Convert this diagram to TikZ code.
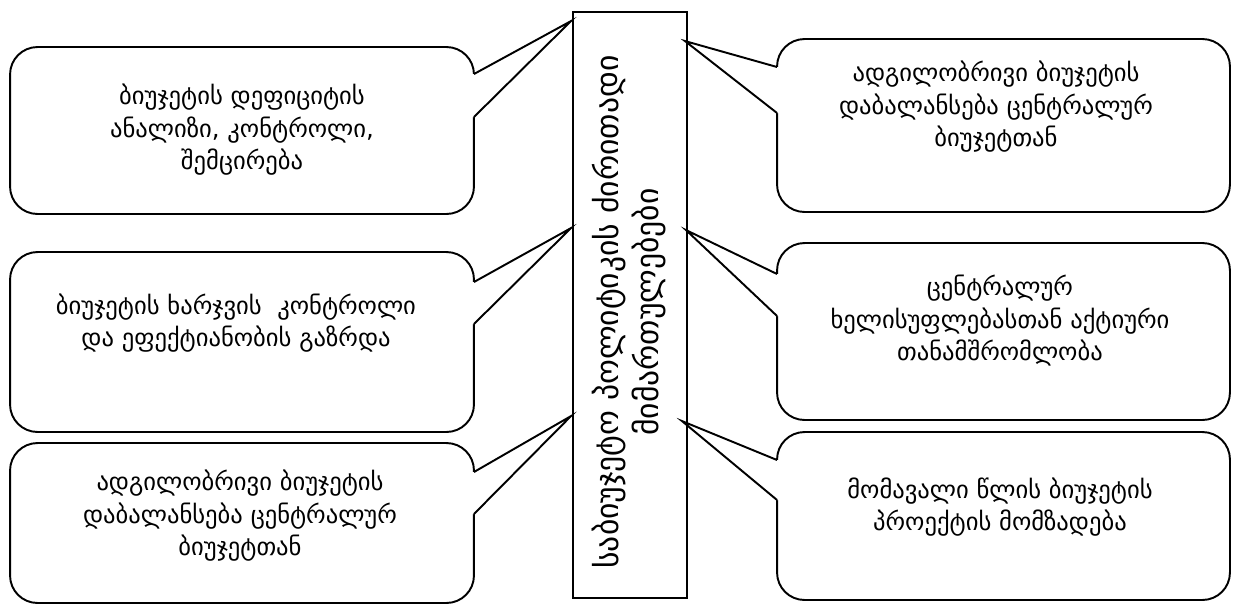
\documentclass[tikz,border=0pt]{standalone}
\usepackage{fontspec}
\newfontfamily\geo{DejaVu Sans}
\usepackage{tikz}
\usetikzlibrary{calc}
\tikzset{
  bubble/.style={draw,line width=1.1pt,rounded corners=0.55cm,outer sep=0pt},
  lbox/.style={bubble,minimum width=9.28cm},
  rbox/.style={bubble,minimum width=9.06cm},
  note/.style={align=center,font=\geo\fontsize{14}{18.5}\selectfont},
  tongue/.style={line width=1.1pt,line join=miter},
}

\begin{document}
\begin{tikzpicture}[x=0.02cm,y=-0.02cm]
    \useasboundingbox (0,0) rectangle (1234,606);
    \node[draw,line width=1.4pt,outer sep=0pt,minimum width=2.28cm,minimum height=11.72cm] (core) at (630,305) {};
    \node[rotate=90,align=center,font=\geo\fontsize{18}{23}\selectfont] (title) at (629,312) {საბიუჯეტო პოლიტიკის ძირითადი\\მიმართულებები};
    \node[lbox,minimum height=3.34cm] (deficit) at (242,130.5) {};
    \node[lbox,minimum height=3.6cm] (spend) at (242,342) {};
    \node[lbox,minimum height=3.2cm] (localL) at (242,523) {};
    \node[rbox,minimum height=3.46cm] (localR) at (1003.5,125.5) {};
    \node[rbox,minimum height=3.54cm] (coop) at (1003.5,331.5) {};
    \node[rbox,minimum height=3.36cm] (project) at (1003.5,516) {};
    \coordinate (tipA) at ($(core.north west)+(-2,9)$);
    \coordinate (tipB) at ($(core.north west)+(-2,216)$);
    \coordinate (tipC) at ($(core.north west)+(-2,404)$);
    \coordinate (tipD) at ($(core.north east)+(-2,29)$);
    \coordinate (tipE) at ($(core.north east)+(-1,218)$);
    \coordinate (tipF) at ($(core.north east)+(-5,409)$);
    \fill[white] ($(deficit.north east)+(-4,27)$) -- ($(deficit.north east)+(0,27)$) -- (tipA) -- ($(deficit.north east)+(0,70)$) -- ($(deficit.north east)+(-4,70)$) -- cycle;
    \draw[tongue] ($(deficit.north east)+(0,27)$) -- (tipA) -- ($(deficit.north east)+(0,70)$);
    \fill[white] ($(spend.north east)+(-4,30)$) -- ($(spend.north east)+(0,30)$) -- (tipB) -- ($(spend.north east)+(0,72)$) -- ($(spend.north east)+(-4,72)$) -- cycle;
    \draw[tongue] ($(spend.north east)+(0,30)$) -- (tipB) -- ($(spend.north east)+(0,72)$);
    \fill[white] ($(localL.north east)+(-4,29)$) -- ($(localL.north east)+(0,29)$) -- (tipC) -- ($(localL.north east)+(0,71)$) -- ($(localL.north east)+(-4,71)$) -- cycle;
    \draw[tongue] ($(localL.north east)+(0,29)$) -- (tipC) -- ($(localL.north east)+(0,71)$);
    \fill[white] ($(localR.north west)+(4,28)$) -- ($(localR.north west)+(0,28)$) -- (tipD) -- ($(localR.north west)+(0,74)$) -- ($(localR.north west)+(4,74)$) -- cycle;
    \draw[tongue] ($(localR.north west)+(0,28)$) -- (tipD) -- ($(localR.north west)+(0,74)$);
    \fill[white] ($(coop.north west)+(4,31)$) -- ($(coop.north west)+(0,31)$) -- (tipE) -- ($(coop.north west)+(0,73)$) -- ($(coop.north west)+(4,73)$) -- cycle;
    \draw[tongue] ($(coop.north west)+(0,31)$) -- (tipE) -- ($(coop.north west)+(0,73)$);
    \fill[white] ($(project.north west)+(4,28)$) -- ($(project.north west)+(0,28)$) -- (tipF) -- ($(project.north west)+(0,68)$) -- ($(project.north west)+(4,68)$) -- cycle;
    \draw[tongue] ($(project.north west)+(0,28)$) -- (tipF) -- ($(project.north west)+(0,68)$);
    \node[note] (deficitT) at (242,130) {ბიუჯეტის დეფიციტის\\ანალიზი, კონტროლი,\\შემცირება};
    \node[note] (spendT) at (236,323) {ბიუჯეტის ხარჯვის\ \ კონტროლი\\და ეფექტიანობის გაზრდა};
    \node[note] (localLT) at (240,516) {ადგილობრივი ბიუჯეტის\\დაბალანსება ცენტრალურ\\ბიუჯეტთან};
    \node[note] (localRT) at (996,107) {ადგილობრივი ბიუჯეტის\\დაბალანსება ცენტრალურ\\ბიუჯეტთან};
    \node[note] (coopT) at (1000,321) {ცენტრალურ\\ხელისუფლებასთან აქტიური\\თანამშრომლობა};
    \node[note] (projectT) at (1000,507) {მომავალი წლის ბიუჯეტის\\პროექტის მომზადება};
\end{tikzpicture}
\end{document}
